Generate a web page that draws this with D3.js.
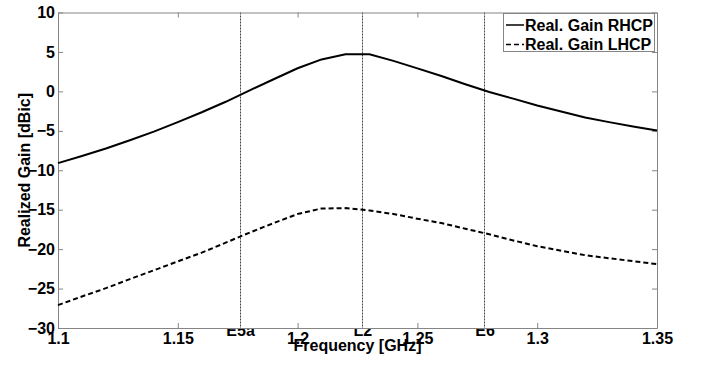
<!DOCTYPE html>
<html>
<head>
<meta charset="utf-8">
<script src="https://cdn.jsdelivr.net/npm/d3@7"></script>
<style>
  html, body { margin: 0; padding: 0; background: #fff; }
  svg { display: block; font-family: "Liberation Sans", Arial, sans-serif; font-weight: bold; }
</style>
</head>
<body>
<script>
const freq = [1.10, 1.11, 1.12, 1.13, 1.14, 1.15, 1.16, 1.17, 1.18, 1.19, 1.20, 1.21, 1.22,
              1.23, 1.24, 1.25, 1.26, 1.27, 1.28, 1.29, 1.30, 1.31, 1.32, 1.33, 1.34, 1.35];
const rhcp = [-9.1, -8.2, -7.25, -6.2, -5.1, -3.9, -2.65, -1.32, 0.12, 1.54, 2.93, 4.05, 4.7,
              4.7, 3.87, 2.92, 1.95, 0.9, -0.08, -0.92, -1.8, -2.55, -3.3, -3.9, -4.45, -4.95];
const lhcp = [-27.1, -26.0, -24.95, -23.8, -22.68, -21.56, -20.45, -19.18, -17.9, -16.7, -15.55, -14.85, -14.8,
              -15.1, -15.55, -16.15, -16.7, -17.41, -18.12, -18.9, -19.63, -20.2, -20.77, -21.15, -21.53, -21.9];
const xTicks = [1.1, 1.15, 1.2, 1.25, 1.3, 1.35];
const xTickLabels = ["1.1", "1.15", "1.2", "1.25", "1.3", "1.35"];
const yTicks = [-30, -25, -20, -15, -10, -5, 0, 5, 10];
const bandNames = ["E5a", "L2", "E6"];
const bandFreq = [1.176, 1.227, 1.278];
const seriesNames = ["Real. Gain RHCP", "Real. Gain LHCP"];

const W = 702, H = 371;
const pL = 58, pR = 657, pT = 12.5, pB = 328;
const gray = "#858585";

const svg = d3.select("body").append("svg").attr("width", W).attr("height", H);
svg.append("rect").attr("width", W).attr("height", H).attr("fill", "#fff");

const x = d3.scaleLinear().domain([1.1, 1.35]).range([pL, pR]);
const y = d3.scaleLinear().domain([-30, 10]).range([pB, pT]);

// band labels (drawn first, partly hidden by plot area like the original)
const bandAxis = d3.axisBottom(x).tickValues(bandFreq).tickFormat((d, i) => bandNames[i])
  .tickSizeInner(-5).tickSizeOuter(0).tickPadding(-3);
const gb = svg.append("g").attr("transform", `translate(0,${pB})`).call(bandAxis);
gb.attr("font-family", null).attr("font-size", 16);
gb.select(".domain").remove();
gb.selectAll(".tick line").attr("stroke", gray);
gb.selectAll(".tick text").attr("fill", "#000");

// plot background
svg.append("rect").attr("x", pL).attr("y", pT).attr("width", pR - pL).attr("height", pB - pT)
  .attr("fill", "#fff");

// band marker lines
svg.append("g").selectAll("line").data(bandFreq).join("line")
  .attr("x1", d => Math.round(x(d)) + 0.5).attr("x2", d => Math.round(x(d)) + 0.5)
  .attr("y1", pT).attr("y2", pB)
  .attr("stroke", "#444").attr("stroke-width", 1).attr("stroke-dasharray", "2,1");

function styleAxis(g) {
  g.attr("font-family", null).attr("font-size", 16);
  g.selectAll(".domain").attr("stroke", gray);
  g.selectAll(".tick line").attr("stroke", gray);
  g.selectAll(".tick text").attr("fill", "#000");
}

const xAxisB = d3.axisBottom(x).tickValues(xTicks).tickFormat((d, i) => xTickLabels[i])
  .tickSizeInner(-5).tickSizeOuter(0).tickPadding(5);
svg.append("g").attr("transform", `translate(0,${pB})`).call(xAxisB).call(styleAxis);
const xAxisT = d3.axisTop(x).tickValues(xTicks).tickFormat("").tickSizeInner(-5).tickSizeOuter(0);
svg.append("g").attr("transform", `translate(0,${pT})`).call(xAxisT).call(styleAxis);
const yAxisL = d3.axisLeft(y).tickValues(yTicks).tickFormat(d3.format("d"))
  .tickSizeInner(-5).tickSizeOuter(0).tickPadding(3);
svg.append("g").attr("transform", `translate(${pL},0)`).call(yAxisL).call(styleAxis);
const yAxisR = d3.axisRight(y).tickValues(yTicks).tickFormat("").tickSizeInner(-5).tickSizeOuter(0);
svg.append("g").attr("transform", `translate(${pR},0)`).call(yAxisR).call(styleAxis);

// curves
const line = d3.line().x((d, i) => x(freq[i])).y(d => y(d));
svg.append("path").datum(rhcp).attr("d", line).attr("fill", "none")
  .attr("stroke", "#000").attr("stroke-width", 2);
svg.append("path").datum(lhcp).attr("d", line).attr("fill", "none")
  .attr("stroke", "#000").attr("stroke-width", 2).attr("stroke-dasharray", "5,3");

// axis titles
svg.append("text").attr("x", (pL + pR) / 2).attr("y", 351).attr("text-anchor", "middle")
  .attr("font-size", 16).text("Frequency [GHz]");
svg.append("text").attr("transform", `translate(30,${(pT + pB) / 2}) rotate(-90)`)
  .attr("text-anchor", "middle").attr("font-size", 16).text("Realized Gain [dBic]");

// legend
const lg = svg.append("g");
lg.append("rect").attr("x", 503.5).attr("y", 13.5).attr("width", 151).attr("height", 38)
  .attr("fill", "#fff").attr("stroke", gray);
const dashes = [null, "5,3"];
const rowY = [25, 44.5];
seriesNames.forEach((name, i) => {
  lg.append("line").attr("x1", 506).attr("x2", 524).attr("y1", rowY[i]).attr("y2", rowY[i])
    .attr("stroke", "#000").attr("stroke-width", 1.5).attr("stroke-dasharray", dashes[i]);
  lg.append("text").attr("x", 525).attr("y", rowY[i]).attr("dy", "0.35em")
    .attr("font-size", 16).text(name);
});
</script>
</body>
</html>
